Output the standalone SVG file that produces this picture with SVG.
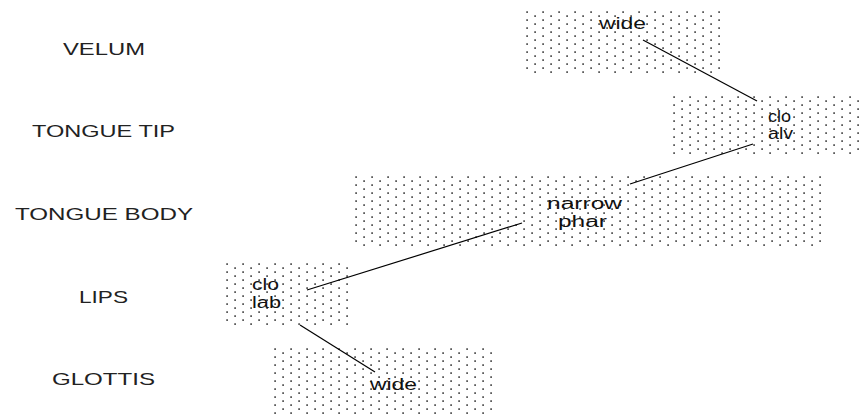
<svg xmlns="http://www.w3.org/2000/svg" width="864" height="416" viewBox="0 0 864 416">
  <style>
    .tier { font-family: "Liberation Sans", Arial, sans-serif; font-size: 17px; fill: #222; }
    .gest { font-family: "Liberation Sans", Arial, sans-serif; font-size: 16px; fill: #111; }
    .link { stroke: #000; stroke-width: 1.2; fill: none; }
  </style>
  <defs>
    <!-- sparse staggered dot screen used to shade each gesture box -->
    <pattern id="dots" patternUnits="userSpaceOnUse" width="16" height="8">
      <rect x="0.3" y="0.3" width="1.6" height="1.6" fill="#333"/>
      <rect x="8.3" y="4.3" width="1.6" height="1.6" fill="#333"/>
    </pattern>
  </defs>

  <rect width="864" height="416" fill="#fff"/>

  <!-- tier names -->
  <g id="tiers">
    <text class="tier" x="63" y="55" textLength="82" lengthAdjust="spacingAndGlyphs">VELUM</text>
    <text class="tier" x="32" y="137" textLength="143" lengthAdjust="spacingAndGlyphs">TONGUE TIP</text>
    <text class="tier" x="15" y="220" textLength="178" lengthAdjust="spacingAndGlyphs">TONGUE BODY</text>
    <text class="tier" x="79" y="303" textLength="49" lengthAdjust="spacingAndGlyphs">LIPS</text>
    <text class="tier" x="52" y="385" textLength="103" lengthAdjust="spacingAndGlyphs">GLOTTIS</text>
  </g>

  <!-- gesture boxes -->
  <g id="velum-wide" transform="translate(526,11)">
    <rect width="200" height="62" fill="url(#dots)"/>
    <text class="gest" x="73" y="18" textLength="47" lengthAdjust="spacingAndGlyphs">wide</text>
  </g>
  <g id="tip-clo-alv" transform="translate(673,96)">
    <rect width="191" height="60" fill="url(#dots)"/>
    <text class="gest" x="95" y="26" textLength="23" lengthAdjust="spacingAndGlyphs">clo</text>
    <text class="gest" x="95" y="43" textLength="25" lengthAdjust="spacingAndGlyphs">alv</text>
  </g>
  <g id="body-narrow-phar" transform="translate(355,176)">
    <rect width="470" height="70" fill="url(#dots)"/>
    <text class="gest" x="192" y="33" textLength="75" lengthAdjust="spacingAndGlyphs">narrow</text>
    <text class="gest" x="203" y="51" textLength="49" lengthAdjust="spacingAndGlyphs">phar</text>
  </g>
  <g id="lips-clo-lab" transform="translate(226,263)">
    <rect width="126" height="63" fill="url(#dots)"/>
    <text class="gest" x="26" y="27" textLength="27" lengthAdjust="spacingAndGlyphs">clo</text>
    <text class="gest" x="26" y="45" textLength="29" lengthAdjust="spacingAndGlyphs">lab</text>
  </g>
  <g id="glottis-wide" transform="translate(274,348)">
    <rect width="224" height="68" fill="url(#dots)"/>
    <text class="gest" x="96" y="42" textLength="47" lengthAdjust="spacingAndGlyphs">wide</text>
  </g>

  <!-- phasing links between gestures -->
  <g id="connectors">
    <line class="link" x1="643" y1="40" x2="757" y2="101"/>
    <line class="link" x1="753" y1="144" x2="630" y2="184"/>
    <line class="link" x1="522" y1="223" x2="307" y2="290"/>
    <line class="link" x1="300" y1="325" x2="375" y2="372"/>
  </g>
</svg>
